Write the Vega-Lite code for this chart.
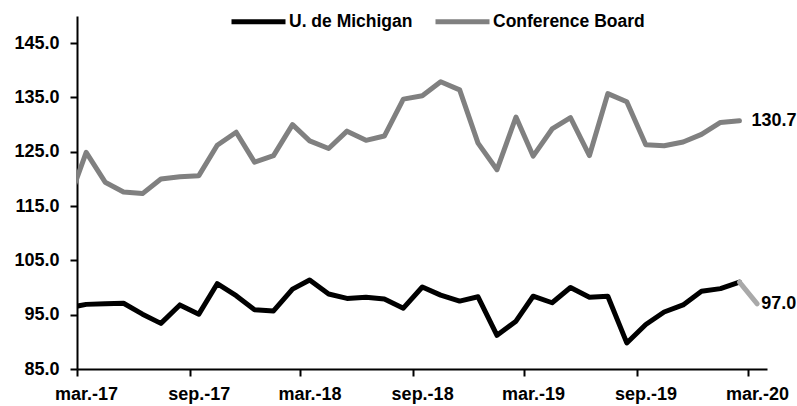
{
  "$schema": "https://vega.github.io/schema/vega-lite/v6.json",
  "width": 690,
  "height": 353,
  "autosize": {"type": "none"},
  "padding": {"left": 77, "top": 16, "right": 30, "bottom": 37},
  "config": {"font": "Liberation Sans", "view": {"stroke": null}},
  "datasets": {
    "series": [
      {"date": "2017-02-16", "serie": "U. de Michigan", "value": 96.3},
      {"date": "2017-03-16", "serie": "U. de Michigan", "value": 96.9},
      {"date": "2017-04-16", "serie": "U. de Michigan", "value": 97.0},
      {"date": "2017-05-16", "serie": "U. de Michigan", "value": 97.1},
      {"date": "2017-06-16", "serie": "U. de Michigan", "value": 95.1},
      {"date": "2017-07-16", "serie": "U. de Michigan", "value": 93.4},
      {"date": "2017-08-16", "serie": "U. de Michigan", "value": 96.8},
      {"date": "2017-09-16", "serie": "U. de Michigan", "value": 95.1},
      {"date": "2017-10-16", "serie": "U. de Michigan", "value": 100.7},
      {"date": "2017-11-16", "serie": "U. de Michigan", "value": 98.5},
      {"date": "2017-12-16", "serie": "U. de Michigan", "value": 95.9},
      {"date": "2018-01-16", "serie": "U. de Michigan", "value": 95.7},
      {"date": "2018-02-16", "serie": "U. de Michigan", "value": 99.7},
      {"date": "2018-03-16", "serie": "U. de Michigan", "value": 101.4},
      {"date": "2018-04-16", "serie": "U. de Michigan", "value": 98.8},
      {"date": "2018-05-16", "serie": "U. de Michigan", "value": 98.0},
      {"date": "2018-06-16", "serie": "U. de Michigan", "value": 98.2},
      {"date": "2018-07-16", "serie": "U. de Michigan", "value": 97.9},
      {"date": "2018-08-16", "serie": "U. de Michigan", "value": 96.2},
      {"date": "2018-09-16", "serie": "U. de Michigan", "value": 100.1},
      {"date": "2018-10-16", "serie": "U. de Michigan", "value": 98.6},
      {"date": "2018-11-16", "serie": "U. de Michigan", "value": 97.5},
      {"date": "2018-12-16", "serie": "U. de Michigan", "value": 98.3},
      {"date": "2019-01-16", "serie": "U. de Michigan", "value": 91.2},
      {"date": "2019-02-16", "serie": "U. de Michigan", "value": 93.8},
      {"date": "2019-03-16", "serie": "U. de Michigan", "value": 98.4},
      {"date": "2019-04-16", "serie": "U. de Michigan", "value": 97.2},
      {"date": "2019-05-16", "serie": "U. de Michigan", "value": 100.0},
      {"date": "2019-06-16", "serie": "U. de Michigan", "value": 98.2},
      {"date": "2019-07-16", "serie": "U. de Michigan", "value": 98.4},
      {"date": "2019-08-16", "serie": "U. de Michigan", "value": 89.8},
      {"date": "2019-09-16", "serie": "U. de Michigan", "value": 93.2},
      {"date": "2019-10-16", "serie": "U. de Michigan", "value": 95.5},
      {"date": "2019-11-16", "serie": "U. de Michigan", "value": 96.8},
      {"date": "2019-12-16", "serie": "U. de Michigan", "value": 99.3},
      {"date": "2020-01-16", "serie": "U. de Michigan", "value": 99.8},
      {"date": "2020-02-16", "serie": "U. de Michigan", "value": 101.0},
      {"date": "2017-02-16", "serie": "Conference Board", "value": 116.1},
      {"date": "2017-03-16", "serie": "Conference Board", "value": 124.9},
      {"date": "2017-04-16", "serie": "Conference Board", "value": 119.4},
      {"date": "2017-05-16", "serie": "Conference Board", "value": 117.6},
      {"date": "2017-06-16", "serie": "Conference Board", "value": 117.3},
      {"date": "2017-07-16", "serie": "Conference Board", "value": 120.0},
      {"date": "2017-08-16", "serie": "Conference Board", "value": 120.4},
      {"date": "2017-09-16", "serie": "Conference Board", "value": 120.6},
      {"date": "2017-10-16", "serie": "Conference Board", "value": 126.2},
      {"date": "2017-11-16", "serie": "Conference Board", "value": 128.6},
      {"date": "2017-12-16", "serie": "Conference Board", "value": 123.1},
      {"date": "2018-01-16", "serie": "Conference Board", "value": 124.3},
      {"date": "2018-02-16", "serie": "Conference Board", "value": 130.0},
      {"date": "2018-03-16", "serie": "Conference Board", "value": 127.0},
      {"date": "2018-04-16", "serie": "Conference Board", "value": 125.6},
      {"date": "2018-05-16", "serie": "Conference Board", "value": 128.8},
      {"date": "2018-06-16", "serie": "Conference Board", "value": 127.1},
      {"date": "2018-07-16", "serie": "Conference Board", "value": 127.9},
      {"date": "2018-08-16", "serie": "Conference Board", "value": 134.7},
      {"date": "2018-09-16", "serie": "Conference Board", "value": 135.3},
      {"date": "2018-10-16", "serie": "Conference Board", "value": 137.9},
      {"date": "2018-11-16", "serie": "Conference Board", "value": 136.4},
      {"date": "2018-12-16", "serie": "Conference Board", "value": 126.6},
      {"date": "2019-01-16", "serie": "Conference Board", "value": 121.7},
      {"date": "2019-02-16", "serie": "Conference Board", "value": 131.4},
      {"date": "2019-03-16", "serie": "Conference Board", "value": 124.2},
      {"date": "2019-04-16", "serie": "Conference Board", "value": 129.2},
      {"date": "2019-05-16", "serie": "Conference Board", "value": 131.3},
      {"date": "2019-06-16", "serie": "Conference Board", "value": 124.3},
      {"date": "2019-07-16", "serie": "Conference Board", "value": 135.7},
      {"date": "2019-08-16", "serie": "Conference Board", "value": 134.2},
      {"date": "2019-09-16", "serie": "Conference Board", "value": 126.3},
      {"date": "2019-10-16", "serie": "Conference Board", "value": 126.1},
      {"date": "2019-11-16", "serie": "Conference Board", "value": 126.8},
      {"date": "2019-12-16", "serie": "Conference Board", "value": 128.2},
      {"date": "2020-01-16", "serie": "Conference Board", "value": 130.4},
      {"date": "2020-02-16", "serie": "Conference Board", "value": 130.7}
    ],
    "prelim": [
      {"date": "2020-02-16", "serie": "U. de Michigan", "value": 101.0},
      {"date": "2020-03-16", "serie": "U. de Michigan", "value": 97.0}
    ],
    "label_cb": [
      {"date": "2020-02-16", "serie": "Conference Board", "value": 130.7}
    ],
    "label_um": [
      {"date": "2020-03-16", "serie": "U. de Michigan", "value": 97.0}
    ]
  },
  "encoding": {
    "x": {
      "field": "date",
      "type": "temporal",
      "scale": {
        "type": "utc",
        "domain": [
          {"year": 2017, "month": 3, "date": 1, "utc": true},
          {"year": 2020, "month": 4, "date": 1, "utc": true}
        ]
      },
      "axis": {
        "values": [
          {"year": 2017, "month": 3, "date": 1, "utc": true},
          {"year": 2017, "month": 9, "date": 1, "utc": true},
          {"year": 2018, "month": 3, "date": 1, "utc": true},
          {"year": 2018, "month": 9, "date": 1, "utc": true},
          {"year": 2019, "month": 3, "date": 1, "utc": true},
          {"year": 2019, "month": 9, "date": 1, "utc": true},
          {"year": 2020, "month": 3, "date": 1, "utc": true}
        ],
        "labelExpr": "(utcmonth(datum.value) == 2 ? 'mar.-' : 'sep.-') + utcFormat(datum.value, '%y')",
        "title": null,
        "grid": false,
        "domainColor": "#000000",
        "domainWidth": 2,
        "tickColor": "#000000",
        "tickWidth": 2,
        "tickSize": 7,
        "labelFont": "Liberation Sans",
        "labelFontSize": 18,
        "labelFontWeight": "bold",
        "labelColor": "#000000",
        "labelPadding": 9,
        "labelOffset": 9,
        "labelOverlap": false,
        "labelFlush": false
      }
    },
    "y": {
      "field": "value",
      "type": "quantitative",
      "scale": {"domain": [85, 150], "nice": false, "zero": false},
      "axis": {
        "values": [85, 95, 105, 115, 125, 135, 145],
        "format": ".1f",
        "title": null,
        "grid": false,
        "domainColor": "#000000",
        "domainWidth": 2,
        "tickColor": "#000000",
        "tickWidth": 2,
        "tickSize": 7,
        "labelFont": "Liberation Sans",
        "labelFontSize": 18,
        "labelFontWeight": "bold",
        "labelColor": "#000000",
        "labelPadding": 11
      }
    }
  },
  "layer": [
    {
      "data": {"name": "series"},
      "mark": {"type": "line", "clip": true, "strokeWidth": 5, "strokeJoin": "round", "strokeCap": "round"},
      "encoding": {
        "color": {
          "field": "serie",
          "type": "nominal",
          "scale": {"domain": ["U. de Michigan", "Conference Board"], "range": ["#000000", "#808080"]},
          "legend": {
            "orient": "none",
            "legendX": 152,
            "legendY": -24,
            "direction": "horizontal",
            "title": null,
            "symbolType": "stroke",
            "symbolSize": 2916,
            "symbolStrokeWidth": 5,
            "labelFont": "Liberation Sans",
            "labelFontSize": 17.5,
            "labelFontWeight": "bold",
            "labelColor": "#000000",
            "labelOffset": 1,
            "labelLimit": 300,
            "columnPadding": 12
          }
        }
      }
    },
    {
      "data": {"name": "prelim"},
      "mark": {"type": "line", "strokeWidth": 5, "strokeCap": "round", "color": "#a9a9a9"},
      "encoding": {}
    },
    {
      "data": {"name": "label_cb"},
      "mark": {"type": "text", "align": "left", "baseline": "middle", "dx": 12, "fontSize": 18, "fontWeight": "bold", "color": "#000000"},
      "encoding": {"text": {"field": "value", "type": "quantitative", "format": ".1f"}}
    },
    {
      "data": {"name": "label_um"},
      "mark": {"type": "text", "align": "left", "baseline": "middle", "dx": 4, "fontSize": 18, "fontWeight": "bold", "color": "#000000"},
      "encoding": {"text": {"field": "value", "type": "quantitative", "format": ".1f"}}
    }
  ]
}
